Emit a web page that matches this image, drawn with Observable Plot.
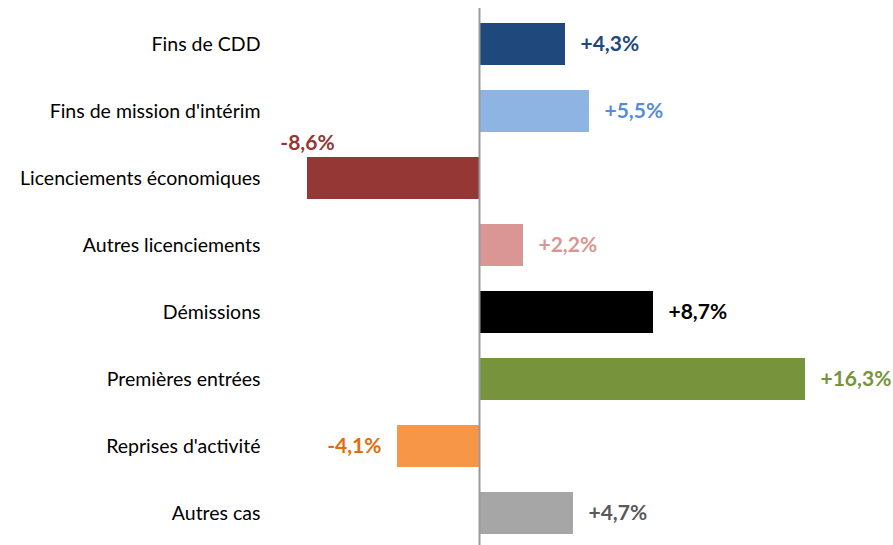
<!DOCTYPE html>
<html><head><meta charset="utf-8">
<script src="https://cdn.jsdelivr.net/npm/d3@7"></script>
<script src="https://cdn.jsdelivr.net/npm/@observablehq/plot@0.6"></script>
<style>body{margin:0;background:#fff}</style>
</head><body><div id="chart"></div>
<script>
const categories = ["Fins de CDD","Fins de mission d'intérim","Licenciements économiques","Autres licenciements","Démissions","Premières entrées","Reprises d'activité","Autres cas"];
const values = [4.3, 5.5, -8.6, 2.2, 8.7, 16.3, -4.1, 4.7];
const barColors = ["#1F497D","#8DB4E2","#953735","#D99694","#000000","#77933C","#F79646","#A6A6A6"];
const labelColors = ["#1F497D","#558ED5","#953735","#D99694","#000000","#77933C","#E46C0A","#595959"];
const aboveLabel = ["Licenciements économiques"];

const data = categories.map((c,i)=>({cat:c, v:values[i], bar:barColors[i], lab:labelColors[i],
  txt:(values[i]>0?"+":"")+values[i].toFixed(1).replace(".",",")+"%"}));
const side = data.filter(d=>!aboveLabel.includes(d.cat));
const above = data.filter(d=>aboveLabel.includes(d.cat));

const font = "Lato, 'Open Sans', sans-serif";
const lab = {x: "v", y: "cat", text: "txt", fill: d=>d.lab, fontWeight: "bold", fontSize: 21};
const chart = Plot.plot({
  width: 893, height: 545,
  marginTop: 8, marginBottom: 0, marginLeft: 268, marginRight: 0,
  style: {fontFamily: font, background: "#fff"},
  x: {domain: [-9, 17], range: [479 - 9*20, 479 + 17*20], axis: null},
  y: {domain: categories, range: [8, 549], paddingInner: 0.37, paddingOuter: 0.185, label: null},
  marks: [
    Plot.barX(data, {x: "v", y: "cat", fill: d=>d.bar}),
    Plot.ruleX([0], {stroke: "#999", strokeWidth: 2}),
    Plot.axisY({tickSize: 0, tickPadding: 8, fontSize: 19.5, fill: "#000", label: null}),
    Plot.text(side.filter(d=>d.v>0), {...lab, textAnchor: "start", dx: 15}),
    Plot.text(side.filter(d=>d.v<0), {...lab, textAnchor: "end", dx: -16}),
    Plot.text(above, {...lab, textAnchor: "middle", dy: -35})
  ]
});
document.getElementById("chart").append(chart);
</script></body></html>
